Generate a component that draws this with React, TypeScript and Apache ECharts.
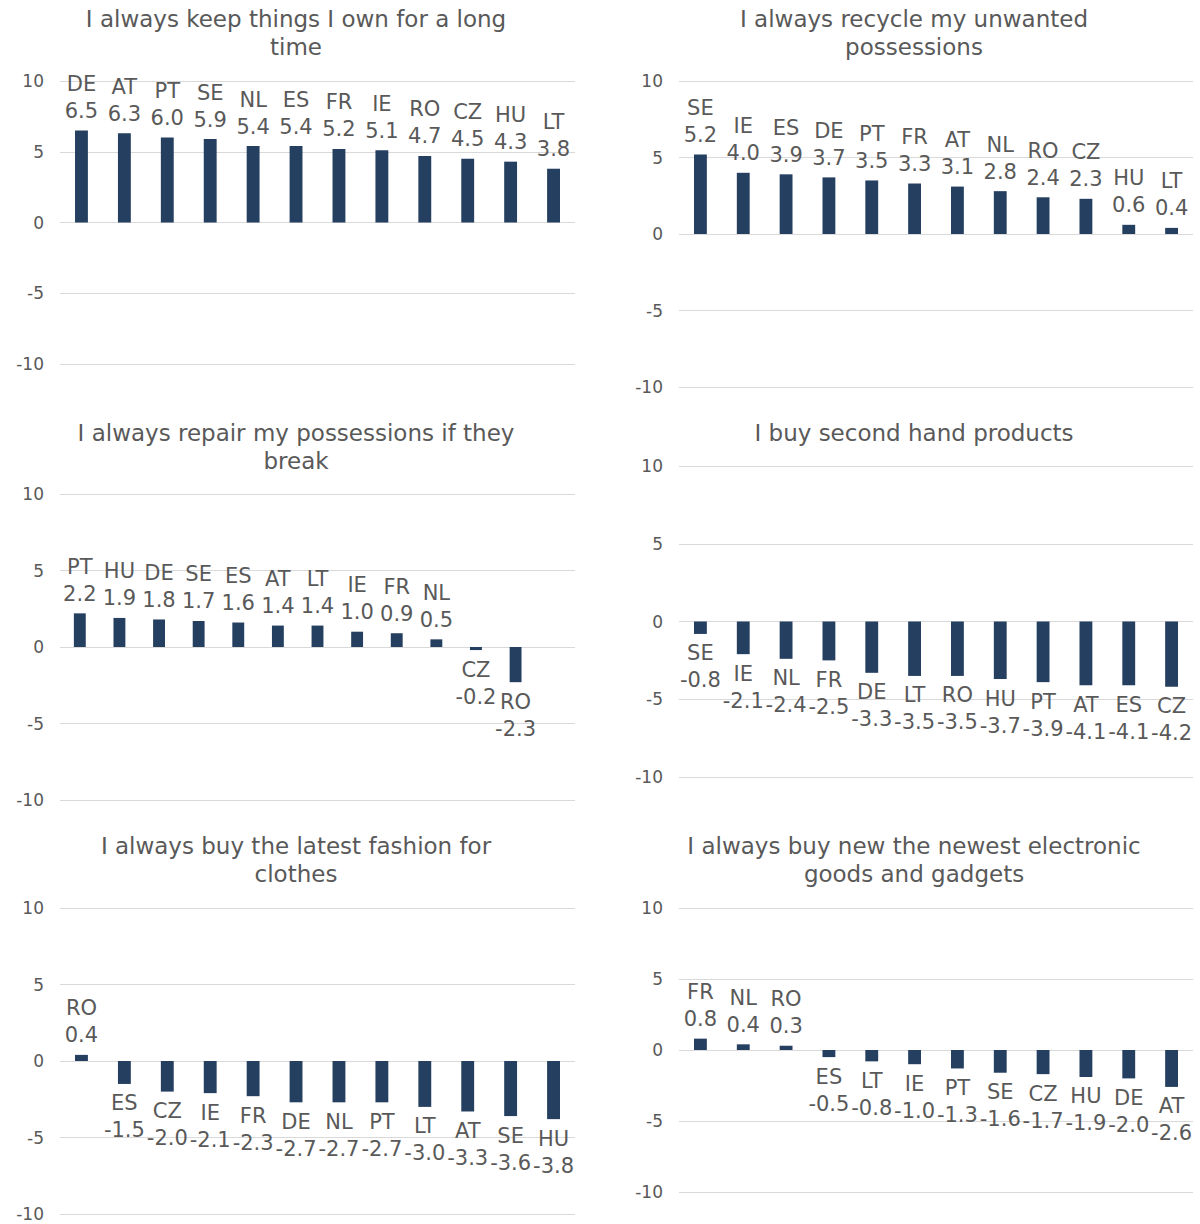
import React, { useEffect, useRef } from "react";
import * as echarts from "echarts";

// Country scores per statement (net agreement, scale -10 … 10)
const keepCountries = ["DE", "AT", "PT", "SE", "NL", "ES", "FR", "IE", "RO", "CZ", "HU", "LT"];
const keepValues = [6.5, 6.3, 6.0, 5.9, 5.4, 5.4, 5.2, 5.1, 4.7, 4.5, 4.3, 3.8];

const recycleCountries = ["SE", "IE", "ES", "DE", "PT", "FR", "AT", "NL", "RO", "CZ", "HU", "LT"];
const recycleValues = [5.2, 4.0, 3.9, 3.7, 3.5, 3.3, 3.1, 2.8, 2.4, 2.3, 0.6, 0.4];

// the last slot has no reported value
const repairCountries = ["PT", "HU", "DE", "SE", "ES", "AT", "LT", "IE", "FR", "NL", "CZ", "RO", ""];
const repairValues: (number | null)[] = [2.2, 1.9, 1.8, 1.7, 1.6, 1.4, 1.4, 1.0, 0.9, 0.5, -0.2, -2.3, null];

const secondHandCountries = ["SE", "IE", "NL", "FR", "DE", "LT", "RO", "HU", "PT", "AT", "ES", "CZ"];
const secondHandValues = [-0.8, -2.1, -2.4, -2.5, -3.3, -3.5, -3.5, -3.7, -3.9, -4.1, -4.1, -4.2];

const fashionCountries = ["RO", "ES", "CZ", "IE", "FR", "DE", "NL", "PT", "LT", "AT", "SE", "HU"];
const fashionValues = [0.4, -1.5, -2.0, -2.1, -2.3, -2.7, -2.7, -2.7, -3.0, -3.3, -3.6, -3.8];

const gadgetCountries = ["FR", "NL", "RO", "ES", "LT", "IE", "PT", "SE", "CZ", "HU", "DE", "AT"];
const gadgetValues = [0.8, 0.4, 0.3, -0.5, -0.8, -1.0, -1.3, -1.6, -1.7, -1.9, -2.0, -2.6];

const yMin = -10;
const yMax = 10;
const yStep = 5;

const FONT = '"DejaVu Sans", Verdana, sans-serif';
const TEXT = "#595959";
const GRID_LINE = "#d9d9d9";
const BAR = "#253f60";

type Panel = {
  title: string;
  cats: string[];
  vals: (number | null)[];
  grid: { left: number; top: number; width: number; height: number };
  titleX: number;
  titleY: number;
};

const panels: Panel[] = [
  {
    title: "I always keep things I own for a long\ntime",
    cats: keepCountries,
    vals: keepValues,
    grid: { left: 60, top: 81, width: 515, height: 283 },
    titleX: 296,
    titleY: 5,
  },
  {
    title: "I always recycle my unwanted\npossessions",
    cats: recycleCountries,
    vals: recycleValues,
    grid: { left: 679, top: 81, width: 514, height: 306 },
    titleX: 914,
    titleY: 5,
  },
  {
    title: "I always repair my possessions if they\nbreak",
    cats: repairCountries,
    vals: repairValues,
    grid: { left: 60, top: 494, width: 515, height: 306 },
    titleX: 296,
    titleY: 419,
  },
  {
    title: "I buy second hand products",
    cats: secondHandCountries,
    vals: secondHandValues,
    grid: { left: 679, top: 466, width: 514, height: 311 },
    titleX: 914,
    titleY: 419,
  },
  {
    title: "I always buy the latest fashion for\nclothes",
    cats: fashionCountries,
    vals: fashionValues,
    grid: { left: 60, top: 908, width: 515, height: 306 },
    titleX: 296,
    titleY: 832,
  },
  {
    title: "I always buy new the newest electronic\ngoods and gadgets",
    cats: gadgetCountries,
    vals: gadgetValues,
    grid: { left: 679, top: 908, width: 514, height: 284 },
    titleX: 914,
    titleY: 832,
  },
];

export default function App() {
  const ref = useRef<HTMLDivElement>(null);

  useEffect(() => {
    if (!ref.current) return;
    const chart = echarts.init(ref.current, undefined, { renderer: "svg" });

    const option: any = {
      animation: false,
      backgroundColor: "#ffffff",
      textStyle: { fontFamily: FONT },
      graphic: panels.map((p) => ({
        type: "text",
        x: p.titleX,
        y: p.titleY,
        silent: true,
        style: {
          text: p.title,
          font: `23px ${FONT}`,
          fill: TEXT,
          textAlign: "center",
          textVerticalAlign: "top",
          lineHeight: 28,
        },
      })),
      grid: panels.map((p) => ({ ...p.grid, containLabel: false })),
      xAxis: panels.map((p, i) => ({
        type: "category",
        gridIndex: i,
        data: p.cats,
        axisLine: { show: false },
        axisTick: { show: false },
        axisLabel: { show: false },
        splitLine: { show: false },
      })),
      yAxis: panels.map((_, i) => ({
        type: "value",
        gridIndex: i,
        min: yMin,
        max: yMax,
        interval: yStep,
        axisLine: { show: false },
        axisTick: { show: false },
        axisLabel: { color: TEXT, fontSize: 17, fontFamily: FONT, margin: 16 },
        splitLine: { lineStyle: { color: GRID_LINE, width: 1 } },
      })),
      series: panels.map((p, i) => ({
        type: "bar",
        xAxisIndex: i,
        yAxisIndex: i,
        barWidth: "30%",
        itemStyle: { color: BAR },
        label: {
          show: true,
          distance: 6,
          color: TEXT,
          fontSize: 21,
          lineHeight: 27,
          fontFamily: FONT,
          formatter: (q: any) =>
            typeof q.value === "number" ? `${q.name}\n${q.value.toFixed(1)}` : "",
        },
        data: p.vals.map((v) =>
          v == null
            ? null
            : { value: v, label: { position: v >= 0 ? "top" : "bottom" } }
        ),
      })),
    };

    chart.setOption(option);
    return () => chart.dispose();
  }, []);

  return (
    <div
      ref={ref}
      style={{ position: "absolute", left: 0, top: 0, width: 1200, height: 1224 }}
    />
  );
}
